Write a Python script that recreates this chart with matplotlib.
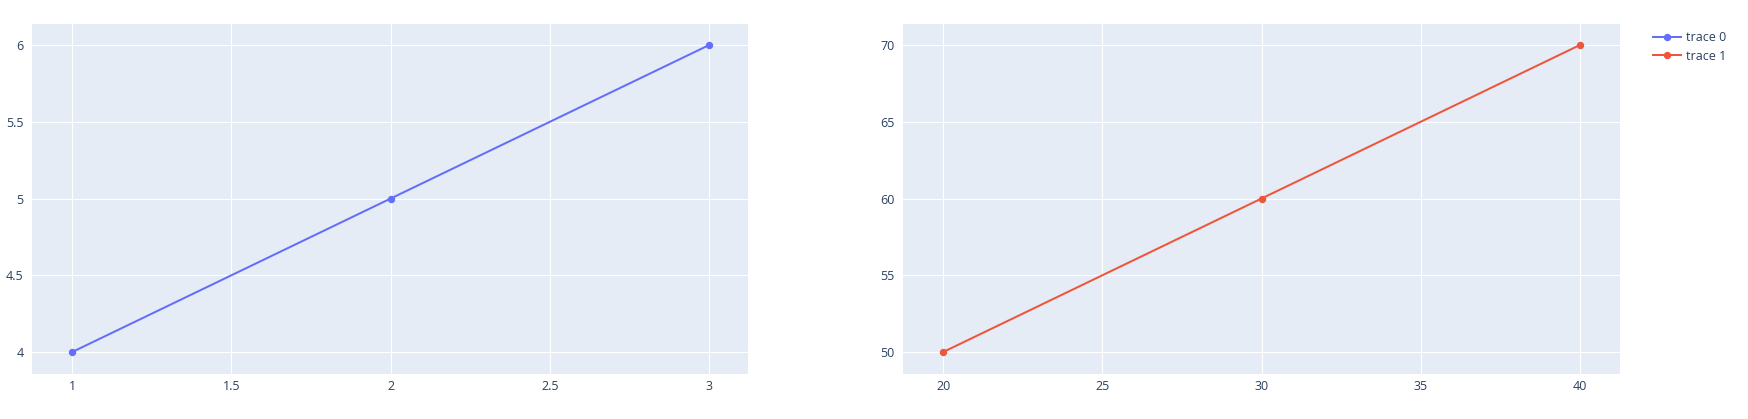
import matplotlib
matplotlib.use("Agg")
import matplotlib.pyplot as plt
from matplotlib.lines import Line2D

plt.rcParams['font.family'] = ['Open Sans', 'DejaVu Sans']

# data
x0 = [1, 2, 3]
y0 = [4, 5, 6]
x1 = [20, 30, 40]
y1 = [50, 60, 70]
names = ['trace 0', 'trace 1']
colors = ['#636efa', '#EF553B']

W, H = 1748, 419
fig = plt.figure(figsize=(W / 100, H / 100), dpi=100)
fig.patch.set_facecolor('white')

def px_axes(x_left, x_right, y_top, y_bottom):
    return fig.add_axes([x_left / W, 1 - y_bottom / H,
                         (x_right - x_left) / W, (y_bottom - y_top) / H])

ax_l = px_axes(32, 748, 24, 374)
ax_r = px_axes(903, 1620, 24, 374)

panels = [
    (ax_l, x0, y0, colors[0], names[0], (0.874, 3.122), (3.857, 6.137),
     [1, 1.5, 2, 2.5, 3], [4, 4.5, 5, 5.5, 6]),
    (ax_r, x1, y1, colors[1], names[1], (18.74, 41.26), (48.57, 71.37),
     [20, 25, 30, 35, 40], [50, 55, 60, 65, 70]),
]

for ax, xs, ys, c, name, xlim, ylim, xt, yt in panels:
    ax.set_facecolor('#E5ECF6')
    ax.plot(xs, ys, '-o', color=c, linewidth=1.45, markersize=4.3, label=name,
            zorder=3, clip_on=False)
    ax.set_xlim(*xlim)
    ax.set_ylim(*ylim)
    ax.set_xticks(xt)
    ax.set_yticks(yt)
    ax.set_xticklabels([f'{v:g}' for v in xt])
    ax.set_yticklabels([f'{v:g}' for v in yt])
    ax.grid(True, color='white', linewidth=0.8)
    ax.set_axisbelow(True)
    for s in ax.spines.values():
        s.set_visible(False)
    ax.tick_params(length=0, labelsize=9, labelcolor='#2a3f5f')
    ax.tick_params(axis='x', pad=4)
    ax.tick_params(axis='y', pad=6)

handles = [Line2D([0], [0], color=c, marker='o', linewidth=1.45, markersize=4.3)
           for c in colors]
fig.legend(handles, names, loc='upper left', bbox_to_anchor=(1648 / W, 1 - 26 / H),
           frameon=False, fontsize=9, labelcolor='#2a3f5f', handlelength=2.2,
           handletextpad=0.45, labelspacing=0.45, borderaxespad=0)

fig.savefig('out.png', dpi=100, facecolor='white')
